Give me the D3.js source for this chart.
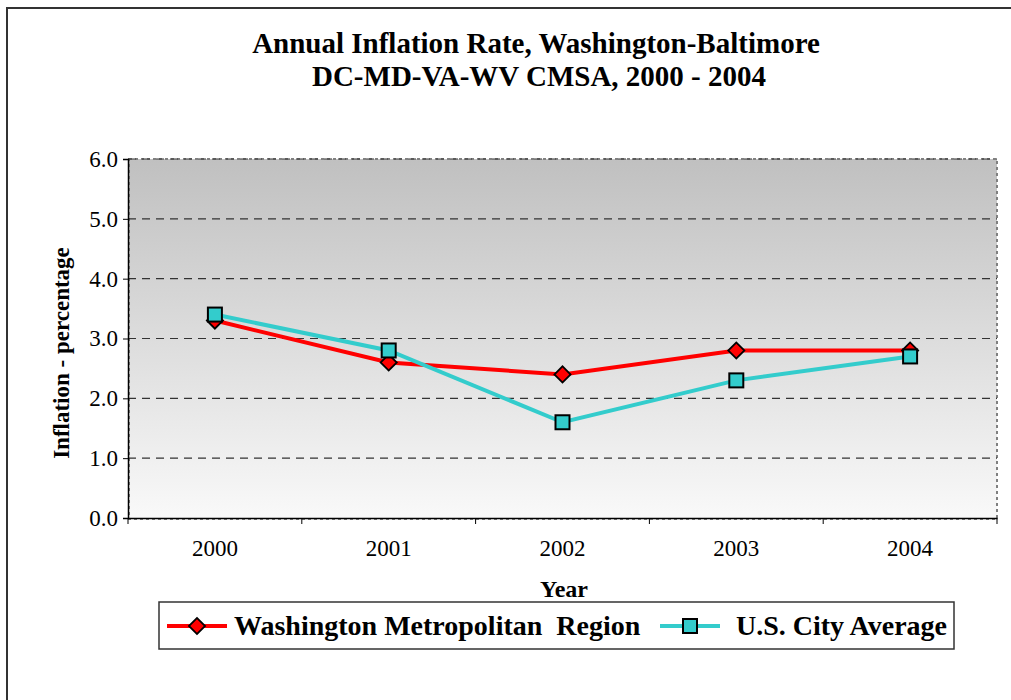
<!DOCTYPE html>
<html>
<head>
<meta charset="utf-8">
<script src="https://cdn.jsdelivr.net/npm/d3@7"></script>
<style>
  body { margin: 0; background: #fff; }
  svg text { font-family: "Liberation Serif", "Times New Roman", serif; }
</style>
</head>
<body>
<script>
// chart data
var years = ["2000", "2001", "2002", "2003", "2004"];
var washington = [3.3, 2.6, 2.4, 2.8, 2.8];
var usAverage = [3.4, 2.8, 1.6, 2.3, 2.7];
var yTicks = [0, 1, 2, 3, 4, 5, 6];

var seriesNames = ["Washington Metropolitan  Region", "U.S. City Average"];
var seriesColors = ["#ff0000", "#33cccc"];

var W = 1011, H = 700;
var plot = {left: 128, top: 159, right: 997, bottom: 518};
var serif = "Liberation Serif, Times New Roman, serif";

var svg = d3.select("body").append("svg")
    .attr("width", W)
    .attr("height", H);

// gradient for the plot background
var grad = svg.append("defs").append("linearGradient")
    .attr("id", "bg")
    .attr("x1", 0).attr("y1", 0).attr("x2", 0).attr("y2", 1);
grad.append("stop").attr("offset", "0%").attr("stop-color", "#c0c0c0");
grad.append("stop").attr("offset", "100%").attr("stop-color", "#f9f9f9");

// outer frame (top and left edges only show)
svg.append("path")
    .attr("d", "M7," + H + " L7,8 L" + W + ",8")
    .attr("fill", "none")
    .attr("stroke", "#333")
    .attr("stroke-width", 2);

// title
var title = svg.append("text")
    .attr("text-anchor", "middle")
    .attr("font-family", serif)
    .attr("font-weight", "bold")
    .attr("font-size", 29);
title.append("tspan").attr("x", 536).attr("y", 53).text("Annual Inflation Rate, Washington-Baltimore");
title.append("tspan").attr("x", 539).attr("y", 86).text("DC-MD-VA-WV CMSA, 2000 - 2004");

var x = d3.scaleBand().domain(years).range([plot.left, plot.right]);
var y = d3.scaleLinear().domain([0, 6]).range([plot.bottom, plot.top]);

svg.append("rect")
    .attr("x", plot.left)
    .attr("y", plot.top)
    .attr("width", plot.right - plot.left)
    .attr("height", plot.bottom - plot.top)
    .attr("fill", "url(#bg)");

// dotted plot border
svg.append("rect")
    .attr("x", plot.left + 1)
    .attr("y", plot.top)
    .attr("width", plot.right - plot.left - 1)
    .attr("height", plot.bottom - plot.top + 1)
    .attr("fill", "none")
    .attr("stroke", "#808080")
    .attr("stroke-width", 2)
    .attr("stroke-dasharray", "3,3");

// gridlines
svg.append("g").selectAll("line")
    .data(yTicks.filter(function(d) { return d > 0; }))
  .enter().append("line")
    .attr("x1", plot.left)
    .attr("x2", plot.right)
    .attr("y1", function(d) { return y(d); })
    .attr("y2", function(d) { return y(d); })
    .attr("stroke", "#333")
    .attr("stroke-width", 1.2)
    .attr("stroke-dasharray", "8,6");

// y axis
var yAxis = svg.append("g")
    .attr("transform", "translate(" + plot.left + ",0)")
    .call(d3.axisLeft(y).tickValues(yTicks).tickFormat(d3.format(".1f")).tickSize(5).tickPadding(5));
yAxis.selectAll("text")
    .attr("font-size", 23)
    .attr("font-family", serif)
    .attr("fill", "#000");
yAxis.select(".domain").attr("stroke", "#000").attr("stroke-width", 1.5);
yAxis.selectAll(".tick line").attr("stroke", "#000");

// x axis
var xAxis = svg.append("g")
    .attr("transform", "translate(0," + plot.bottom + ")")
    .call(d3.axisBottom(x).tickSize(0).tickPadding(22));
xAxis.selectAll("text")
    .attr("font-size", 23)
    .attr("font-family", serif)
    .attr("fill", "#000");
xAxis.select(".domain").attr("stroke", "#000").attr("stroke-width", 1.5);
xAxis.selectAll(".edge")
    .data(years.concat(["end"]))
  .enter().append("line")
    .attr("class", "edge")
    .attr("x1", function(d, i) { return plot.left + i * x.bandwidth(); })
    .attr("x2", function(d, i) { return plot.left + i * x.bandwidth(); })
    .attr("y1", 0)
    .attr("y2", 6)
    .attr("stroke", "#000");

// axis titles
svg.append("text")
    .attr("x", 564)
    .attr("y", 597)
    .attr("text-anchor", "middle")
    .attr("font-family", serif)
    .attr("font-weight", "bold")
    .attr("font-size", 24)
    .text("Year");

svg.append("text")
    .attr("transform", "translate(69,353) rotate(-90)")
    .attr("text-anchor", "middle")
    .attr("font-family", serif)
    .attr("font-weight", "bold")
    .attr("font-size", 23)
    .text("Inflation - percentage");

// lines and markers
var line = d3.line()
    .x(function(d, i) { return x(years[i]) + x.bandwidth() / 2; })
    .y(function(d) { return y(d); });

var diamond = d3.symbol().type(d3.symbolSquare).size(130);

function drawMarker(g, kind, color) {
  if (kind === 0) {
    g.append("path")
        .attr("d", diamond())
        .attr("transform", "rotate(45)")
        .attr("fill", color)
        .attr("stroke", "#000")
        .attr("stroke-width", 1.8);
  } else {
    g.append("rect")
        .attr("x", -7).attr("y", -7)
        .attr("width", 14).attr("height", 14)
        .attr("fill", color)
        .attr("stroke", "#000")
        .attr("stroke-width", 2);
  }
}

[washington, usAverage].forEach(function(vals, k) {
  svg.append("path")
      .datum(vals)
      .attr("d", line)
      .attr("fill", "none")
      .attr("stroke", seriesColors[k])
      .attr("stroke-width", 4);
});

[washington, usAverage].forEach(function(vals, k) {
  svg.append("g").selectAll("g")
      .data(vals)
    .enter().append("g")
      .attr("transform", function(d, i) {
        return "translate(" + (x(years[i]) + x.bandwidth() / 2) + "," + y(d) + ")";
      })
      .each(function() { drawMarker(d3.select(this), k, seriesColors[k]); });
});

// legend
var legend = svg.append("g");
legend.append("rect")
    .attr("x", 159)
    .attr("y", 602)
    .attr("width", 795)
    .attr("height", 47)
    .attr("fill", "#fff")
    .attr("stroke", "#333")
    .attr("stroke-width", 1.5);

var legendItems = [{x: 167, text: 234}, {x: 660, text: 736}];
legendItems.forEach(function(it, k) {
  var g = legend.append("g");
  g.append("line")
      .attr("x1", it.x).attr("x2", it.x + 60)
      .attr("y1", 626).attr("y2", 626)
      .attr("stroke", seriesColors[k])
      .attr("stroke-width", 4);
  var m = g.append("g").attr("transform", "translate(" + (it.x + 30) + ",626)");
  drawMarker(m, k, seriesColors[k]);
  g.append("text")
      .attr("x", it.text)
      .attr("y", 635)
      .attr("font-family", serif)
      .attr("font-weight", "bold")
      .attr("font-size", 28)
      .style("white-space", "pre")
      .text(seriesNames[k]);
});
</script>
</body>
</html>
